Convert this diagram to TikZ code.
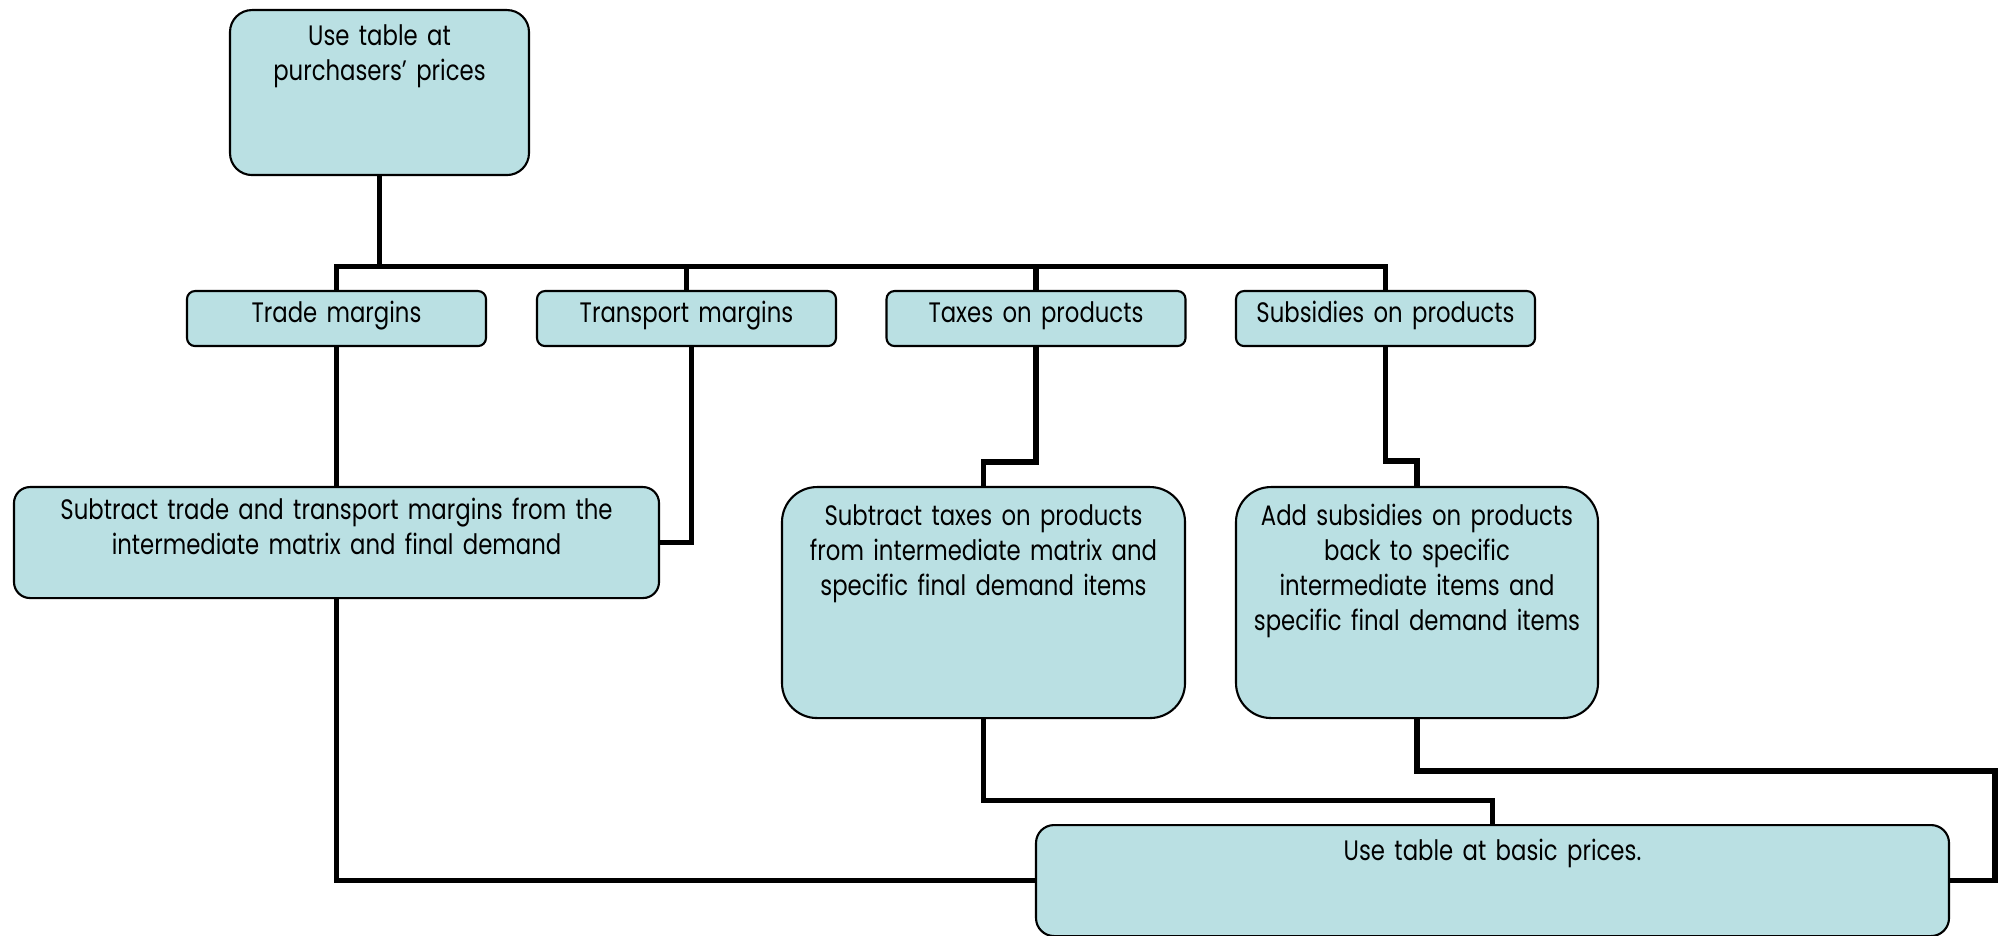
\documentclass[tikz,border=0pt]{standalone}
\usepackage{fontspec}
\setmainfont{Poppins}[FakeStretch=0.81]
\definecolor{boxfill}{RGB}{186,224,227}

\begin{document}
\begin{tikzpicture}[
  box/.style={draw=black, line width=0.6pt, fill=boxfill, align=center,
    inner xsep=0pt, inner ysep=0pt, anchor=north,
    font=\fontsize{8}{9.96}\selectfont},
  link/.style={line width=0.055cm}
]
  \useasboundingbox (0,0) rectangle (20.04,-9.36);

  % Starting table
  \node[box, rounded corners=0.22cm, text width=2.99cm, text height=0.355cm, text depth=1.295cm]
    (top) at (3.795,-0.09) {Use table at\\purchasers' prices};

  % Price components
  \node[box, rounded corners=0.08cm, text width=2.99cm, text height=0.31cm, text depth=0.24cm]
    (trade) at (3.365,-2.90) {Trade margins};
  \node[box, rounded corners=0.08cm, text width=2.99cm, text height=0.31cm, text depth=0.24cm]
    (transport) at (6.865,-2.90) {Transport margins};
  \node[box, rounded corners=0.08cm, text width=2.99cm, text height=0.31cm, text depth=0.24cm]
    (taxes) at (10.36,-2.90) {Taxes on products};
  \node[box, rounded corners=0.08cm, text width=2.99cm, text height=0.31cm, text depth=0.24cm]
    (subs) at (13.855,-2.90) {Subsidies on products};

  % Adjustments
  \node[box, rounded corners=0.16cm, text width=6.45cm, text height=0.32cm, text depth=0.79cm]
    (margins) at (3.365,-4.86) {Subtract trade and transport margins from the\\intermediate matrix and final demand};
  \node[box, rounded corners=0.35cm, text width=4.03cm, text height=0.38cm, text depth=1.93cm]
    (taxbox) at (9.835,-4.86) {Subtract taxes on products\\from intermediate matrix and\\specific final demand items};
  \node[box, rounded corners=0.35cm, text width=3.62cm, text height=0.38cm, text depth=1.93cm]
    (subbox) at (14.17,-4.86) {Add subsidies on products\\back to specific\\intermediate items and\\specific final demand items};

  % Result
  \node[box, rounded corners=0.18cm, text width=9.13cm, text height=0.35cm, text depth=0.76cm]
    (basic) at (14.925,-8.24) {Use table at basic prices.};

  % Connectors
  \coordinate (bus) at (0,-2.665);
  \coordinate (rim) at (19.95,-7.71);
  \foreach \n in {trade,transport,taxes,subs}
    \draw[link] (top.south) |- (bus -| \n.north) -- (\n.north);
  \draw[link] (trade.south) -- (margins.north);
  \draw[link] ([xshift=0.05cm]transport.south) |- (margins.east);
  \draw[link] (taxes.south) |- ([yshift=0.24cm]taxbox.north) -- (taxbox.north);
  \draw[link] (subs.south) |- ([yshift=0.25cm]subbox.north) -- (subbox.north);
  \draw[link] (margins.south) |- (basic.west);
  \draw[link] (taxbox.south) |- ([yshift=0.235cm]basic.north) -- (basic.north);
  \draw[link] (subbox.south) |- (rim) |- (basic.east);
\end{tikzpicture}
\end{document}
